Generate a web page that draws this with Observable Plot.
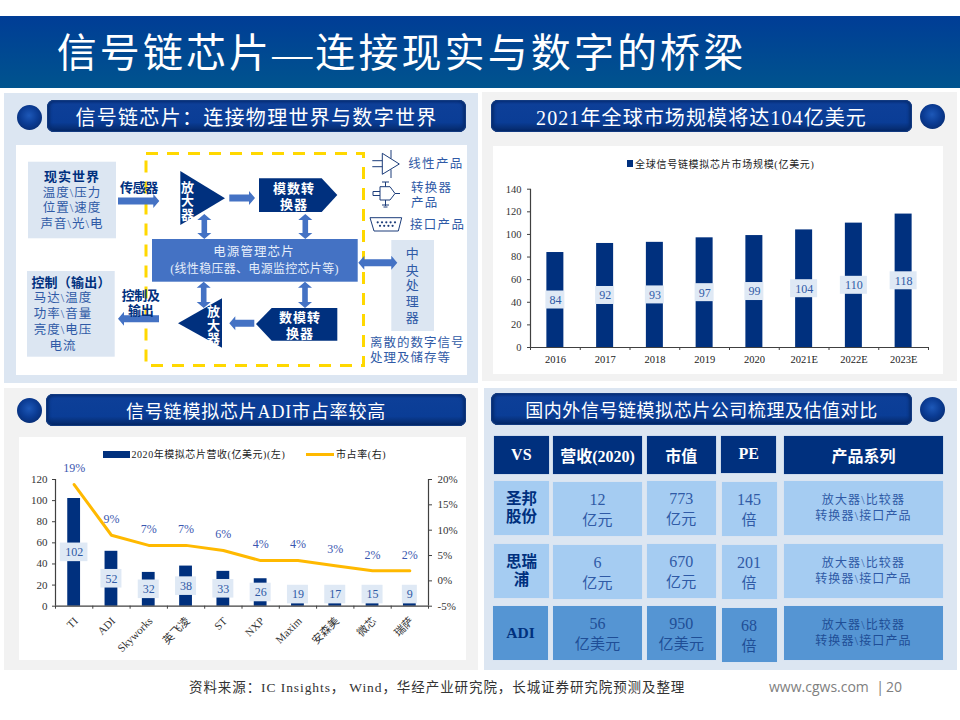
<!DOCTYPE html>
<html lang="zh">
<head>
<meta charset="utf-8">
<script src="https://cdn.jsdelivr.net/npm/d3@7"></script>
<script src="https://cdn.jsdelivr.net/npm/@observablehq/plot@0.6"></script>
<style>
html,body{margin:0;padding:0;background:#fff;width:960px;height:720px;overflow:hidden}
body{position:relative;font-family:"Liberation Serif","Noto Sans CJK SC",serif}
.abs{position:absolute;box-sizing:border-box}
.hdr{border-radius:7px;color:#fff;display:flex;align-items:center;justify-content:center;white-space:nowrap;
 background:linear-gradient(#0a2f7a 0,#0d3f98 14%,#0a3d96 70%,#062c70 92%,#04235c 100%);
 box-shadow:inset 0 0 0 1px #123a80,inset 3px 0 3px #062c70,inset -3px 0 3px #062c70}
.ball{border-radius:50%;background:radial-gradient(circle at 48% 42%,#1d58b8 0,#0b3c94 45%,#04235f 100%)}
.cell{display:flex;flex-direction:column;align-items:center;justify-content:center;text-align:center;white-space:nowrap}
svg{display:block}
</style>
</head>
<body>
<script>
// ---------- text ----------
const slideTitle = "信号链芯片—连接现实与数字的桥梁";
const headers = ["信号链芯片：连接物理世界与数字世界","2021年全球市场规模将达104亿美元","信号链模拟芯片ADI市占率较高","国内外信号链模拟芯片公司梳理及估值对比"];
const sourceNote = "资料来源：IC Insights， Wind，华经产业研究院，长城证券研究院预测及整理";
const siteNote = "www.cgws.com";
const pageNumber = "20";

// ---------- market size chart ----------
const years = ["2016","2017","2018","2019","2020","2021E","2022E","2023E"];
const marketSize = [84,92,93,97,99,104,110,118];
const marketLegend = "全球信号链模拟芯片市场规模(亿美元)";

// ---------- share chart ----------
const companies = ["TI","ADI","Skyworks","英飞凌","ST","NXP","Maxim","安森美","微芯","瑞萨"];
const revenue = [102,52,32,38,33,26,19,17,15,9];
const barTops = [102,52,32,38,33,26,4,4,4,4];
const share = [19,9,7,7,6,4,4,3,2,2];
const revenueTicks = [0,20,40,60,80,100,120];
const shareTicks = [-5,0,5,10,15,20];
const revenueLegend = "2020年模拟芯片营收(亿美元)(左)";
const shareLegend = "市占率(右)";

// ---------- table ----------
const tableHead = ["VS","营收(2020)","市值","PE","产品系列"];
const tableCompanies = [["圣邦","股份"],["思瑞","浦"],["ADI"]];
const tableRevenue = [["12","亿元"],["6","亿元"],["56","亿美元"]];
const tableMarketCap = [["773","亿元"],["670","亿元"],["950","亿美元"]];
const tablePE = [["145","倍"],["201","倍"],["68","倍"]];
const tableProducts = ["放大器\\比较器","转换器\\接口产品"];

// ---------- diagram labels ----------
const realWorld = ["现实世界","温度\\压力","位置\\速度","声音\\光\\电"];
const controlOut = ["控制（输出）","马达\\温度","功率\\音量","亮度\\电压","电流"];
const powerChip = ["电源管理芯片","(线性稳压器、电源监控芯片等)"];
const cpuChars = ["中","央","处","理","器"];
const discreteNote = ["离散的数字信号","处理及储存等"];

const NAVY = "#00307e", BLUE = "#4472c4", PALE = "#dce6f2", INK = "#2f5aa6";
const FONT = '"Liberation Serif","Noto Sans CJK SC",serif';

function box(x, y, w, h, css = {}, cls = "", html = "") {
  const d = document.createElement("div");
  d.className = "abs " + cls;
  Object.assign(d.style, {left: x + "px", top: y + "px", width: w + "px", height: h + "px"}, css);
  d.innerHTML = html;
  document.body.append(d);
  return d;
}
function line(x, y, str, css = {}) {
  const d = document.createElement("div");
  d.className = "abs";
  Object.assign(d.style, {left: x + "px", top: y + "px", whiteSpace: "nowrap", lineHeight: "1"}, css);
  d.textContent = str;
  document.body.append(d);
  return d;
}

// ---------- slide frame ----------
box(0, 16, 960, 72, {background: "linear-gradient(#003d96,#00548e)"});
box(0, 16, 803, 72, {color: "#fff", fontSize: "40px", letterSpacing: "3.1px", display: "flex", alignItems: "center", justifyContent: "center", paddingBottom: "4px"}, "", slideTitle);

box(4, 93, 474, 290, {background: PALE});
box(482, 92, 475, 289, {background: "#f2f2f2"});
box(4, 388, 474, 282, {background: "#f2f2f2"});
box(483.5, 388, 473.5, 282, {background: PALE});
box(16, 145, 451, 230, {background: "#fff"});
box(493, 146, 450, 228, {background: "#fff"});
box(19, 437, 447, 223, {background: "#fff"});

const headerLayout = [[47,100,419,32,20,1.3],[491,100,421,32,20,1.1],[46,394,420,31.5,18,.8],[491,393,421,32,18,.55]];
headerLayout.forEach(([x,y,w,h,fs,ls],i)=>box(x,y,w,h,{fontSize:fs+"px",letterSpacing:ls+"px"},"hdr",headers[i]));
[[29.5,117],[932,116],[29.5,410],[932,409]].forEach(([cx,cy])=>box(cx-12.5,cy-12.5,25,25,{},"ball"));

// ---------- chart 1 ----------
const marketData = years.map((year,i)=>({year,i,value:marketSize[i]}));
const chart1 = Plot.plot({
  width:450,height:228,marginLeft:37,marginRight:15,marginTop:42.7,marginBottom:27,
  style:{background:"transparent",fontFamily:FONT,overflow:"visible"},
  x:{domain:[0,years.length],axis:null},
  y:{domain:[0,140],axis:null},
  marks:[
    Plot.rect(marketData,{x1:d=>d.i+.5,x2:d=>d.i+.5,y1:0,y2:"value",insetLeft:-8.5,insetRight:-8.5,fill:NAVY}),
    Plot.rect(marketData.filter(d=>d.value<100),{x1:d=>d.i+.5,x2:d=>d.i+.5,y1:d=>d.value/2,y2:d=>d.value/2,insetLeft:-9.5,insetRight:-9.5,insetTop:-9,insetBottom:-9,fill:"#dfe9f5"}),
    Plot.rect(marketData.filter(d=>d.value>=100),{x1:d=>d.i+.5,x2:d=>d.i+.5,y1:d=>d.value/2,y2:d=>d.value/2,insetLeft:-13.5,insetRight:-13.5,insetTop:-9,insetBottom:-9,fill:"#dfe9f5"}),
    Plot.text(marketData,{x:d=>d.i+.5,y:d=>d.value/2,text:d=>String(d.value),fill:INK,fontSize:12}),
    Plot.axisY(d3.range(0,141,20),{tickSize:3,tickPadding:6,fontSize:10.5,label:null,color:"#333",stroke:"#404040"}),
    Plot.axisX(d3.range(0,9),{tickSize:3,tickFormat:()=>"",label:null,stroke:"#404040"}),
    Plot.ruleX([0],{stroke:"#404040",strokeWidth:1.2}),
    Plot.ruleY([0],{stroke:"#404040",strokeWidth:1.2}),
    Plot.text(marketData,{x:d=>d.i+.5,y:0,text:"year",dy:12,fontSize:10.5,fill:"#222"})
  ]
});
const c1 = box(493,146,450,228); c1.append(chart1);
box(627,160,6,7,{background:NAVY});
line(635,159,marketLegend,{fontSize:"10px",letterSpacing:".72px",color:"#222",lineHeight:"11px"});

// ---------- chart 2 ----------
const toLeft = d3.scaleLinear([shareTicks[0],shareTicks[shareTicks.length-1]],[0,120]);
const shareData = companies.map((name,i)=>({name,i,revenue:revenue[i],top:barTops[i],share:share[i],labelY:Math.max(revenue[i]/2,11)}));
const labelBox = (rows,half)=>Plot.rect(rows,{x1:d=>d.i+.5,x2:d=>d.i+.5,y1:"labelY",y2:"labelY",insetLeft:-half,insetRight:-half,insetTop:-9.3,insetBottom:-9.3,fill:"#dfe9f5"});
const chart2 = Plot.plot({
  width:447,height:223,marginLeft:36,marginRight:38,marginTop:42,marginBottom:54.3,
  style:{background:"transparent",fontFamily:FONT,overflow:"visible"},
  x:{domain:[0,companies.length],axis:null},
  y:{domain:[0,120],axis:null},
  marks:[
    Plot.rect(shareData,{x1:d=>d.i+.5,x2:d=>d.i+.5,y1:0,y2:"top",insetLeft:-6.4,insetRight:-6.4,fill:NAVY}),
    labelBox(shareData.filter(d=>d.revenue>=100),13.8),
    labelBox(shareData.filter(d=>d.revenue>=10&&d.revenue<100),10.5),
    labelBox(shareData.filter(d=>d.revenue<10),7.5),
    Plot.text(shareData,{x:d=>d.i+.5,y:"labelY",text:d=>String(d.revenue),fill:INK,fontSize:12}),
    Plot.line(shareData,{x:d=>d.i+.5,y:d=>toLeft(d.share),stroke:"#ffb900",strokeWidth:3,curve:"linear"}),
    Plot.text(shareData,{x:d=>d.i+.5,y:d=>toLeft(d.share),text:d=>d.share+"%",dy:-16,fill:"#3a57b0",fontSize:12}),
    Plot.axisY(revenueTicks,{tickSize:3,tickPadding:5,fontSize:11,label:null,color:"#333",stroke:"#404040"}),
    Plot.axisY(shareTicks.map(d=>toLeft(d)),{anchor:"right",tickSize:3,tickPadding:6,fontSize:11,label:null,textAnchor:"start",tickFormat:d=>Math.round(toLeft.invert(d))+"%",color:"#333",stroke:"#404040"}),
    Plot.axisX(d3.range(0,11),{tickSize:3,tickFormat:()=>"",label:null,stroke:"#404040"}),
    Plot.ruleX([0],{stroke:"#404040",strokeWidth:1.2}),
    Plot.ruleX([companies.length],{stroke:"#404040",strokeWidth:1.2}),
    Plot.ruleY([0],{stroke:"#404040",strokeWidth:1.2}),
    Plot.text(shareData,{x:d=>d.i+.5,y:0,text:"name",rotate:-45,textAnchor:"end",dy:13,dx:2,fontSize:11,fill:"#333"})
  ]
});
const c2 = box(19,437,447,223); c2.append(chart2);
box(103,451,27,6.5,{background:NAVY});
line(131.5,449,revenueLegend,{fontSize:"10px",letterSpacing:".55px",color:"#222",lineHeight:"11px"});
box(305.5,453,28,3,{background:"#ffb900"});
line(336,449,shareLegend,{fontSize:"10px",letterSpacing:".6px",color:"#222",lineHeight:"11px"});

// ---------- table ----------
const colX=[493.7,552.7,646.7,721.3,783.7], colW=[55.3,89.8,69.3,55,159.6];
tableHead.forEach((t,c)=>box(colX[c],c===3?435.5:436,colW[c],37.5,{background:NAVY,color:"#fff",fontWeight:"bold",fontSize:"16px",boxShadow:"0 0 1px #7f9fd0"},"cell",t));
const rowY=[481,544,606.3], rowH=54, rowBg=["#a5ccf2","#a5ccf2","#5595d3"];
const cellShadow="0 0 1px #c8dcf2";
rowBg.forEach((bg,r)=>{
  const dy=r===2?1.7:1;
  box(r===2?493:494,rowY[r],55,rowH,{background:bg,color:NAVY,fontWeight:"bold",fontSize:"15.5px",lineHeight:"18.5px",boxShadow:cellShadow},"cell",tableCompanies[r].map(s=>`<div>${s}</div>`).join(""));
  const val=(c,a,ox=0)=>box(colX[c]+ox,rowY[r]+(c===1?(r===2?0:1):0)+(c===3?dy:0),colW[c],rowH,{background:bg,color:r===2?"#1f4e96":INK,fontSize:"15px",lineHeight:"20px",boxShadow:cellShadow,paddingTop:"2px"},"cell",a.map((s,i)=>`<div style="${i?'letter-spacing:.3px':'font-size:16px'}">${s}</div>`).join(""));
  val(1,tableRevenue[r]); val(2,tableMarketCap[r]); val(3,tablePE[r],.3);
  box(colX[4],rowY[r],colW[4],rowH-.5,{background:bg,color:r===2?"#1f4e96":INK,fontSize:"12px",letterSpacing:"1.15px",lineHeight:"16px",boxShadow:cellShadow},"cell",tableProducts.map(s=>`<div>${s}</div>`).join(""));
});

// ---------- footer ----------
line(189,681,sourceNote,{fontSize:"13.5px",letterSpacing:".92px",color:"#333"});
line(769,680,siteNote,{fontFamily:'"Open Sans"',fontSize:"14px",color:"#808080"});
line(876,679,"|",{fontFamily:'"Open Sans"',fontSize:"15px",color:"#808080"});
line(886,680,pageNumber,{fontFamily:'"Open Sans"',fontSize:"14px",color:"#808080"});

// ---------- diagram ----------
const ns="http://www.w3.org/2000/svg";
const dia=document.createElementNS(ns,"svg");
dia.setAttribute("width",960);dia.setAttribute("height",720);
dia.setAttribute("class","abs");dia.style.left="0";dia.style.top="0";
document.body.append(dia);
function el(tag,attrs){const e=document.createElementNS(ns,tag);for(const k in attrs)e.setAttribute(k,attrs[k]);dia.append(e);return e;}
function poly(pts,fill,extra={}){return el("polygon",{points:pts.map(p=>p.join(",")).join(" "),fill,...extra});}
function lab(x,y,s,{size=12.5,fill=INK,bold=false,anchor="middle",ls=1}={}){
  const e=el("text",{x,y,"text-anchor":anchor,"dominant-baseline":"central","font-size":size,fill,"font-weight":bold?"bold":"normal","letter-spacing":ls,"font-family":FONT});
  e.textContent=s;return e;
}
function arrowH(x1,x2,y,two=false,sh=3.5,hw=7,hl=6){
  const d=x2>x1?1:-1, p=[[x1,y-sh],[x2-d*hl,y-sh],[x2-d*hl,y-hw],[x2,y],[x2-d*hl,y+hw],[x2-d*hl,y+sh],[x1,y+sh]];
  if(two){p.splice(6,1,[x1+d*hl,y+sh],[x1+d*hl,y+hw],[x1,y],[x1+d*hl,y-hw],[x1+d*hl,y-sh]);p.splice(0,1);}
  poly(p,BLUE);
}
function arrowV(x,y1,y2,sh=2.8,hw=7,hl=6){
  poly([[x,y1],[x+hw,y1+hl],[x+sh,y1+hl],[x+sh,y2-hl],[x+hw,y2-hl],[x,y2],[x-hw,y2-hl],[x-sh,y2-hl],[x-sh,y1+hl],[x-hw,y1+hl]],BLUE);
}
el("rect",{x:28,y:161.7,width:88,height:76.6,fill:PALE});
el("rect",{x:27,y:271,width:87.7,height:85.7,fill:PALE});
el("rect",{x:391.3,y:240,width:42.7,height:91,fill:PALE});
el("rect",{x:146,y:153.5,width:217.5,height:212,fill:"none",stroke:"#ffd800","stroke-width":3,"stroke-dasharray":"12 9"});
arrowH(118,159.3,201);
arrowH(159,118,318.7);
poly([[180.3,171],[225,198.3],[180.3,225]],NAVY);
arrowH(229.3,255,198);
poly([[259,178.3],[321.7,178.3],[337.3,195],[321.7,212],[259,212]],NAVY);
arrowV(204.3,214,239);arrowV(305.3,214,239);
el("rect",{x:152,y:239,width:205.7,height:42.7,fill:BLUE});
arrowV(203.7,281.7,308);arrowV(305,281.7,308);
arrowH(358.3,397.3,262.7,true);
poly([[222,298.3],[178,323.3],[222,347.7]],NAVY);
arrowH(254.3,229.3,323.3);
poly([[256,324],[271.7,308],[337.3,308],[337.3,340.7],[271.7,340.7]],NAVY);

// labels
[176.7,192.7,208,224].forEach((y,i)=>lab(72,y,realWorld[i],i?{}:{bold:true,fill:NAVY,size:13}));
[282,298,314,330,346].forEach((y,i)=>lab(i?63:71,y,controlOut[i],i?{}:{bold:true,fill:NAVY,size:13,ls:.2}));
lab(139,187.7,"传感器",{bold:true,fill:NAVY,size:13,ls:-.3});
lab(140.7,295,"控制及",{bold:true,fill:NAVY,size:13,ls:-.3});
lab(140.7,310,"输出",{bold:true,fill:NAVY,size:13,ls:-.3});
[187,200.7,214].forEach((y,i)=>lab(188,y,"放大器"[i],{bold:true,fill:"#fff",size:13}));
[311.7,325,338.3].forEach((y,i)=>lab(214,y,"放大器"[i],{bold:true,fill:"#fff",size:13}));
lab(294,188.7,"模数转",{bold:true,fill:"#fff",size:13});lab(294,204,"换器",{bold:true,fill:"#fff",size:13});
lab(300,317.3,"数模转",{bold:true,fill:"#fff",size:13});lab(300,333.3,"换器",{bold:true,fill:"#fff",size:13});
lab(254,252.3,powerChip[0],{fill:"#e6eefa",size:12.5,ls:1.1});
lab(254.5,269,powerChip[1],{fill:"#e6eefa",size:12,ls:.3});
[253.3,270,285.7,301.7,317.7].forEach((y,i)=>lab(412.7,y,cpuChars[i],{size:13}));
lab(370,343.3,discreteNote[0],{anchor:"start",ls:1});
lab(370,358,discreteNote[1],{anchor:"start",ls:1});
lab(408.3,164,"线性产品",{anchor:"start",ls:1.3});
lab(411,187.7,"转换器",{anchor:"start",ls:1.3});
lab(411,202.7,"产品",{anchor:"start",ls:1.3});
lab(410,225,"接口产品",{anchor:"start",ls:1.3});

// icons
const ic={fill:"none",stroke:"#1c3d7a","stroke-width":1};
poly([[382.3,153.3],[399.3,164],[382.3,174.3]],"#fff",ic);
[[372.3,160.7,382.3,160.7],[372.3,166.7,382.3,166.7],[391,150,391,158.5],[391,169.5,391,178]].forEach(([x1,y1,x2,y2])=>el("line",{x1,y1,x2,y2,...ic}));
poly([[380,186.7],[390,186.7],[395,193.5],[390,200],[380,200]],"#fff",ic);
[[385.5,182,385.5,186.7],[382,182,389,182],[385.5,200,385.5,206],[382,205,389,205],[383.5,207,387.5,207],[395,193.5,400,193.5],[373,191.5,380,191.5],[373,195.5,380,195.5],[373,191.5,373,195.5]].forEach(([x1,y1,x2,y2])=>el("line",{x1,y1,x2,y2,...ic}));
poly([[370,217.7],[401.7,217.7],[398.3,231],[374,231]],"#fff",ic);
[377.7,382,386.3,390.6,395].forEach(x=>el("circle",{cx:x,cy:222.3,r:1.1,fill:"#1c3d7a"}));
[380,384.2,388.4,392.6].forEach(x=>el("circle",{cx:x,cy:225.8,r:1.1,fill:"#1c3d7a"}));
</script>
</body>
</html>
